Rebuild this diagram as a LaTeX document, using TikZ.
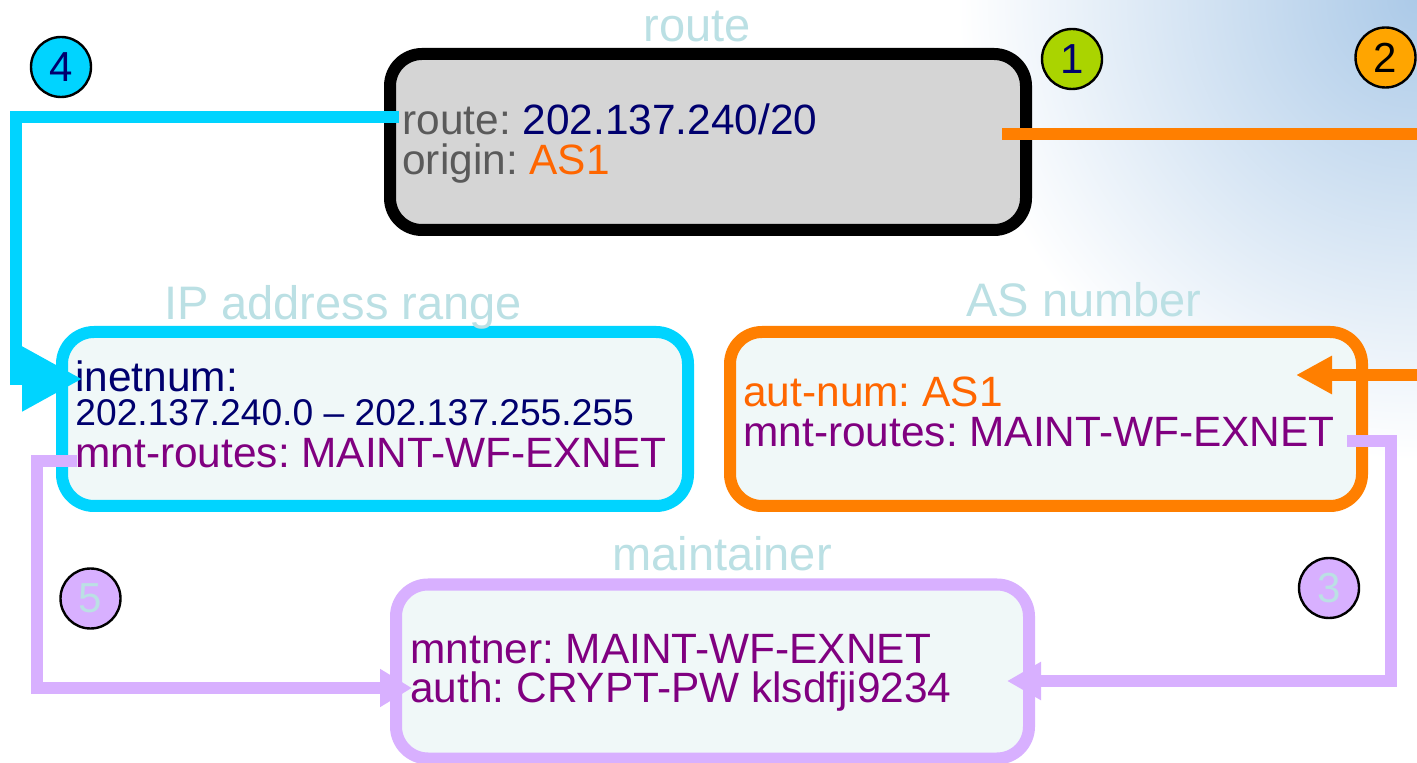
\documentclass[tikz,border=0pt]{standalone}
\usepackage{fontspec}
\setmainfont{Liberation Sans}
\usetikzlibrary{positioning,arrows.meta}
\definecolor{cyanline}{RGB}{0,212,255}
\definecolor{orangeline}{RGB}{255,127,0}
\definecolor{lavline}{RGB}{216,176,255}
\definecolor{titlecol}{RGB}{187,224,228}
\definecolor{navytext}{RGB}{0,0,110}
\definecolor{purpletext}{RGB}{128,0,128}
\definecolor{orangetext}{RGB}{255,102,0}
\definecolor{greytext}{RGB}{90,90,90}
\definecolor{boxfill}{RGB}{240,248,248}
\definecolor{routefill}{RGB}{213,213,213}
\definecolor{greenball}{RGB}{170,212,0}
\definecolor{orangeball}{RGB}{255,165,0}
\definecolor{skyblue}{RGB}{172,202,232}
\frenchspacing

\begin{document}
\begin{tikzpicture}[x=0.5pt,y=-0.5pt,
    box/.style={draw,rounded corners=16pt,line width=6pt,inner sep=0pt,fill=boxfill},
    title/.style={text=titlecol,font=\fontsize{23.5}{24}\selectfont,anchor=base,inner sep=0pt},
    entry/.style={font=\fontsize{21.2}{21}\selectfont,anchor=base west,inner sep=0pt},
    ball/.style={circle,draw,line width=1.2pt,minimum size=30pt,inner sep=0pt,font=\fontsize{21}{21}\selectfont},
    link/.style={line width=6pt,line join=miter}]
  \clip (0,0) rectangle (1417,763);
  \fill[white] (0,0) rectangle (1417,763);
  \shade[inner color=skyblue,outer color=white] (1417,0) circle (460);

  % boxes
  \node[box,fill=routefill,minimum width=318pt,minimum height=88pt] (routebox) at (708,142) {};
  \node[box,draw=cyanline,minimum width=313pt,minimum height=87pt] (ipbox) at (375,419) {};
  \node[box,draw=orangeline,minimum width=316pt,minimum height=87pt] (asbox) at (1046,419) {};
  \node[box,draw=lavline,minimum width=316.5pt,minimum height=87pt] (mntbox) at (712.5,671.5) {};

  % titles
  \node[title] (routetitle) at (697,42) {route};
  \node[title] (iptitle) at (343,320) {IP address range};
  \node[title] (astitle) at (1084,317) {AS number};
  \node[title] (mnttitle) at (722,571) {maintainer};

  % entries
  \node[entry,text=greytext] (rtline) at (402,135) {route: \textcolor{navytext}{202.137.240/20}};
  \node[entry,text=greytext] (orline) at (402,175) {origin: \textcolor{orangetext}{AS1}};
  \node[entry,text=navytext] (inetline) at (75,392) {inetnum:};
  \node[entry,text=navytext,font=\fontsize{18.6}{19}\selectfont] (rangeline) at (75,426) {202.137.240.0 – 202.137.255.255};
  \node[entry,text=purpletext] (ipmnt) at (75,468) {mnt-routes: MAINT-WF-EXNET};
  \node[entry,text=orangetext] (autline) at (743,407) {aut-num: AS1};
  \node[entry,text=purpletext] (asmnt) at (743,447) {mnt-routes: MAINT-WF-EXNET};
  \node[entry,text=purpletext] (mntline) at (410,663) {mntner: MAINT-WF-EXNET};
  \node[entry,text=purpletext] (authline) at (410,702) {auth: CRYPT-PW klsdfji9234};

  % links
  \coordinate (cyout) at (399,117);
  \coordinate (cyin) at (82,379);
  \coordinate (orout) at (1002,134);
  \coordinate (orin) at (1296,375);
  \coordinate (asout) at (1347,441);
  \coordinate (mntinR) at (1007,681);
  \coordinate (ipout) at (77,461);
  \coordinate (mntinL) at (412,688);
  \draw[link,cyanline,-{Triangle[length=30pt,width=31pt]}] (cyout) -- ++(-383,0) |- (cyin);
  \draw[link,orangeline,-{Triangle[length=18pt,width=18pt]}] (orout) -- ++(440,0) |- (orin);
  \draw[link,lavline,-{Triangle[length=17pt,width=18pt]}] (asout) -- ++(44,0) |- (mntinR);
  \draw[link,lavline,-{Triangle[length=16pt,width=18pt]}] (ipout) -- ++(-40,0) |- (mntinL);

  % numbered balls
  \node[ball,fill=greenball,text=navytext] (one) at (1072,59) {1};
  \node[ball,fill=orangeball] (two) at (1385.5,57.5) {2};
  \node[ball,fill=lavline,text=titlecol] (three) at (1329,588) {3};
  \node[ball,fill=cyanline,text=navytext] (four) at (61,67) {4};
  \node[ball,fill=lavline,text=titlecol] (five) at (90.5,598.5) {5};
\end{tikzpicture}
\end{document}
